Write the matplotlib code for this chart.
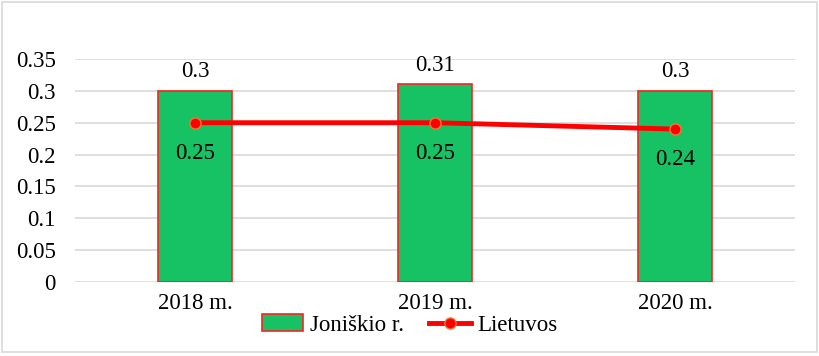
import numpy as np
import matplotlib.pyplot as plt

years = ["2018 m.", "2019 m.", "2020 m."]
joniskio = [0.3, 0.31, 0.3]
lietuvos = [0.25, 0.25, 0.24]
yticks = [0, 0.05, 0.1, 0.15, 0.2, 0.25, 0.3, 0.35]
ytick_labels = ["0", "0.05", "0.1", "0.15", "0.2", "0.25", "0.3", "0.35"]

plt.rcParams['font.family'] = ['Liberation Serif', 'DejaVu Serif']
fs = 16.5

fig = plt.figure(figsize=(8.2, 3.56), dpi=100)
ax = fig.add_axes([75 / 820, 1 - 282 / 356, 720 / 820, 223 / 356])

x = np.arange(len(years))
bars = ax.bar(x, joniskio, width=0.31, color='#17c264', edgecolor='#ff2020',
              linewidth=1.2, label='Joniškio r.', zorder=2)
line, = ax.plot(x, lietuvos, color='#ff0000', linewidth=3.5, marker='o',
                markersize=8, markerfacecolor='#ff0000', markeredgecolor='#f07830',
                markeredgewidth=1, label='Lietuvos', zorder=3)

for xi, v in zip(x, joniskio):
    ax.annotate(f"{v:g}", (xi, v), xytext=(0, 14), textcoords='offset points',
                ha='center', va='center', fontsize=fs)
for xi, v in zip(x, lietuvos):
    ax.annotate(f"{v:g}", (xi, v), xytext=(0, -22), textcoords='offset points',
                ha='center', va='center', fontsize=fs)

ax.set_xlim(-0.5, 2.5)
ax.set_ylim(0, 0.35)
ax.set_yticks(yticks)
ax.set_yticklabels(ytick_labels)
ax.set_xticks(x)
ax.set_xticklabels(years)
ax.tick_params(axis='both', length=0, labelsize=fs)
ax.tick_params(axis='y', pad=14)
ax.tick_params(axis='x', pad=8)
ax.grid(axis='y', color='#d9d9d9', linewidth=1.2, zorder=0)
ax.set_axisbelow(True)
for s in ax.spines.values():
    s.set_visible(False)

fig.legend(handles=[bars, line], loc='center', bbox_to_anchor=(0.5, 1 - 325 / 356),
           ncol=2, frameon=False, fontsize=fs, handlelength=1.8,
           columnspacing=1.1, handletextpad=0.3)

fig.patches.append(plt.Rectangle((0.002, 0.01), 0.994, 0.985, transform=fig.transFigure,
                                 fill=False, edgecolor='#d9d9d9', linewidth=1.2))

fig.savefig("out.png", dpi=100)
